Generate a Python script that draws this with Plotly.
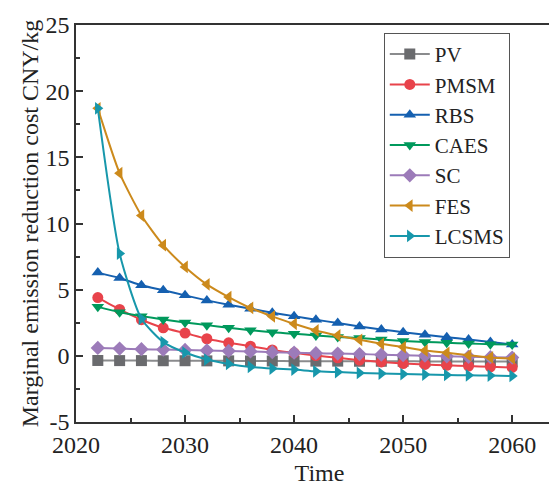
import plotly.graph_objects as go

years = list(range(2022, 2061, 2))

pv = [-0.35, -0.36, -0.36, -0.37, -0.37, -0.38, -0.38, -0.39, -0.39, -0.40,
      -0.40, -0.40, -0.41, -0.41, -0.41, -0.42, -0.42, -0.42, -0.43, -0.43]
pmsm = [4.40, 3.51, 2.73, 2.12, 1.72, 1.29, 0.98, 0.73, 0.45, 0.23,
        0.02, -0.15, -0.33, -0.46, -0.58, -0.65, -0.72, -0.77, -0.83, -0.88]
rbs = [6.29, 5.88, 5.33, 4.95, 4.57, 4.19, 3.86, 3.56, 3.26, 3.00,
       2.73, 2.48, 2.22, 1.99, 1.79, 1.59, 1.41, 1.24, 1.04, 0.85]
caes = [3.70, 3.30, 3.00, 2.75, 2.52, 2.32, 2.12, 1.94, 1.78, 1.67,
        1.54, 1.43, 1.34, 1.23, 1.13, 1.05, 0.99, 0.93, 0.88, 0.85]
sc = [0.60, 0.55, 0.50, 0.47, 0.44, 0.41, 0.37, 0.33, 0.28, 0.24,
      0.20, 0.17, 0.13, 0.09, 0.05, 0.01, -0.03, -0.07, -0.10, -0.13]
fes = [18.70, 13.80, 10.60, 8.36, 6.72, 5.40, 4.44, 3.62, 2.98, 2.42,
       1.92, 1.54, 1.21, 0.91, 0.66, 0.40, 0.23, 0.04, -0.12, -0.20]
lcsms = [18.70, 7.73, 2.80, 1.04, 0.25, -0.28, -0.61, -0.84, -0.96, -1.04,
         -1.17, -1.23, -1.29, -1.34, -1.38, -1.42, -1.45, -1.47, -1.49, -1.52]

series = [
    ("PV", pv, "#8a8b8d", "#6a6b6e", "square"),
    ("PMSM", pmsm, "#e8434b", "#e8434b", "circle"),
    ("RBS", rbs, "#1560b0", "#1560b0", "triangle-up"),
    ("CAES", caes, "#00995c", "#00995c", "triangle-down"),
    ("SC", sc, "#9c7bb9", "#9c7bb9", "diamond"),
    ("FES", fes, "#cc8a1c", "#cc8a1c", "triangle-left"),
    ("LCSMS", lcsms, "#1797ab", "#1797ab", "triangle-right"),
]

fig = go.Figure()
for name, vals, lc, mc, sym in series:
    fig.add_trace(go.Scatter(
        x=years, y=vals, name=name, mode="lines+markers",
        line=dict(color=lc, width=2, shape="spline", smoothing=0.6),
        marker=dict(symbol=sym, size=11, color=mc),
    ))

font_family = "Liberation Serif"
yticks = [-5, 0, 5, 10, 15, 20, 25]

fig.update_layout(
    width=557, height=490,
    margin=dict(l=68, r=0, t=17, b=76),
    plot_bgcolor="white", paper_bgcolor="white",
    font=dict(family=font_family, size=24, color="#222222"),
    showlegend=True,
    legend=dict(
        x=0.632, y=0.98, xanchor="left", yanchor="top",
        bordercolor="#555555", borderwidth=1, bgcolor="white",
        font=dict(family=font_family, size=21, color="#222222"),
        itemwidth=40, tracegroupgap=0,
    ),
    xaxis=dict(
        range=[2020, 2064.66], tickvals=[2020, 2030, 2040, 2050, 2060],
        ticks="inside", ticklen=7, tickwidth=1.5, tickcolor="#333333",
        minor=dict(tickvals=[2025, 2035, 2045, 2055], ticks="inside", ticklen=4,
                   tickwidth=1.5, tickcolor="#333333"),
        showline=True, linecolor="#333333", linewidth=1.5, mirror=True,
        showgrid=False, zeroline=False,
        title=dict(text="Time", font=dict(family=font_family, size=24), standoff=8),
    ),
    yaxis=dict(
        range=[-5, 25], tickvals=yticks, ticktext=[str(v) for v in yticks],
        ticks="inside", ticklen=7, tickwidth=1.5, tickcolor="#333333",
        minor=dict(tickvals=[-2.5, 2.5, 7.5, 12.5, 17.5, 22.5], ticks="inside", ticklen=4,
                   tickwidth=1.5, tickcolor="#333333"),
        showline=True, linecolor="#333333", linewidth=1.5, mirror=True,
        showgrid=False, zeroline=False,
        title=dict(text="Marginal emission reduction cost CNY/kg",
                   font=dict(family=font_family, size=24), standoff=0),
    ),
)

fig.write_html("out.html")
